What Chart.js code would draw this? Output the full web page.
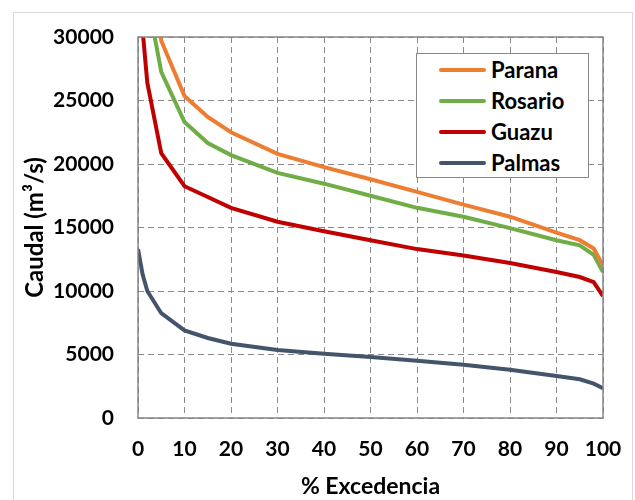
<!DOCTYPE html>
<html>
<head>
<meta charset="utf-8">
<script src="https://cdn.jsdelivr.net/npm/chart.js@4/dist/chart.umd.min.js"></script>
<style>
  html, body { margin: 0; padding: 0; background: #fff; }
  #wrap { position: relative; width: 635px; height: 500px; overflow: hidden; }
  #frame { position: absolute; left: 13px; top: 12px; width: 620px; height: 500px; border: 1px solid #d9d9d9; box-sizing: border-box; }
  #myChart { position: absolute; left: 0; top: 0; }
  #legend { position: absolute; left: 416px; top: 53px; width: 173px; height: 125px; box-sizing: border-box;
    background: #fff; border: 1px solid #888; font-family: Lato, sans-serif; font-weight: bold; font-size: 22px; color: #000; }
  .leg-item { position: absolute; left: 0; height: 24px; }
  .leg-line { position: absolute; left: 22px; width: 47px; height: 4px; top: 11px; border-radius: 2px; }
  .leg-text { position: absolute; left: 74px; top: 0; line-height: 26px; white-space: nowrap; }
</style>
</head>
<body>
<div id="wrap">
  <div id="frame"></div>
  <canvas id="myChart" width="635" height="500"></canvas>
  <div id="legend"></div>
</div>
<script>
// ----- data -----
var excedencia = [0, 1, 2, 5, 10, 15, 20, 30, 40, 50, 60, 70, 80, 90, 95, 98, 100];
var parana  = [55000, 45000, 38000, 29700, 25350, 23700, 22500, 20800, 19750, 18800, 17800, 16800, 15850, 14600, 14000, 13350, 12000];
var rosario = [48000, 40000, 33100, 27250, 23300, 21650, 20700, 19300, 18450, 17500, 16550, 15850, 14950, 14000, 13600, 12850, 11500];
var guazu   = [42000, 30500, 26400, 20850, 18250, 17400, 16550, 15450, 14700, 14000, 13300, 12800, 12200, 11500, 11100, 10700, 9600];
var palmas  = [13300, 11300, 10000, 8250, 6900, 6300, 5850, 5350, 5050, 4800, 4500, 4200, 3800, 3300, 3050, 2700, 2350];
var seriesNames = ['Parana', 'Rosario', 'Guazu', 'Palmas'];
var seriesColors = ['#ED7D31', '#70AD47', '#C00000', '#44546A'];
var yTicks = [0, 5000, 10000, 15000, 20000, 25000, 30000];

function toPoints(values) {
  return values.map(function (v, i) { return { x: excedencia[i], y: v }; });
}

var allSeries = [parana, rosario, guazu, palmas];
var datasets = allSeries.map(function (vals, i) {
  return {
    label: seriesNames[i],
    data: toPoints(vals),
    borderColor: seriesColors[i],
    backgroundColor: seriesColors[i],
    borderWidth: 4,
    pointRadius: 0,
    tension: 0,
    fill: false
  };
});

// draw a solid box around the plot area
var plotBorder = {
  id: 'plotBorder',
  afterDatasetsDraw: function (chart) {
    var a = chart.chartArea, c = chart.ctx;
    c.save();
    c.strokeStyle = '#868686';
    c.lineWidth = 1.5;
    c.setLineDash([]);
    c.strokeRect(a.left, a.top, a.right - a.left, a.bottom - a.top);
    c.restore();
  }
};

var tickFont = { family: 'Lato, sans-serif', weight: 'bold', size: 21 };
var titleFont = { family: 'Lato, sans-serif', weight: 'bold', size: 23 };
var gridStyle = { color: '#8a8a8a', lineWidth: 1, drawTicks: false };

var myChart = new Chart(document.getElementById('myChart').getContext('2d'), {
  type: 'line',
  data: { datasets: datasets },
  options: {
    responsive: false,
    animation: false,
    layout: { padding: { left: 0, right: 32, top: 37, bottom: 0 } },
    plugins: { legend: { display: false }, tooltip: { enabled: false } },
    scales: {
      x: {
        type: 'linear', min: 0, max: 100,
        ticks: { stepSize: 10, color: '#000', font: tickFont, padding: 19, maxRotation: 0 },
        grid: gridStyle,
        border: { display: false, dash: [6, 4] },
        title: { display: true, text: '% Excedencia', color: '#000', font: titleFont, padding: { top: 0, bottom: 0 } },
        afterFit: function (s) { s.height = 82; s.paddingLeft = 0; s.paddingRight = 0; }
      },
      y: {
        min: 0, max: 30000,
        afterBuildTicks: function (s) { s.ticks = yTicks.map(function (v) { return { value: v }; }); },
        ticks: { color: '#000', font: tickFont, padding: 24, callback: function (v) { return String(v); } },
        grid: gridStyle,
        border: { display: false, dash: [6, 4] },
        title: { display: true, text: 'Caudal (m³/s)', color: '#000', font: { family: 'Lato, sans-serif', weight: 'bold', size: 24 }, padding: { top: 21, bottom: 0 } },
        afterFit: function (s) { s.width = 138; s.paddingTop = 0; s.paddingBottom = 0; }
      }
    }
  },
  plugins: [plotBorder]
});

// ----- html legend -----
var legend = document.getElementById('legend');
seriesNames.forEach(function (name, i) {
  var item = document.createElement('div');
  item.className = 'leg-item';
  item.style.top = (3 + i * 31) + 'px';
  item.innerHTML = '<div class="leg-line" style="background:' + seriesColors[i] + '"></div>' +
                   '<div class="leg-text">' + name + '</div>';
  legend.appendChild(item);
});
</script>
</body>
</html>
